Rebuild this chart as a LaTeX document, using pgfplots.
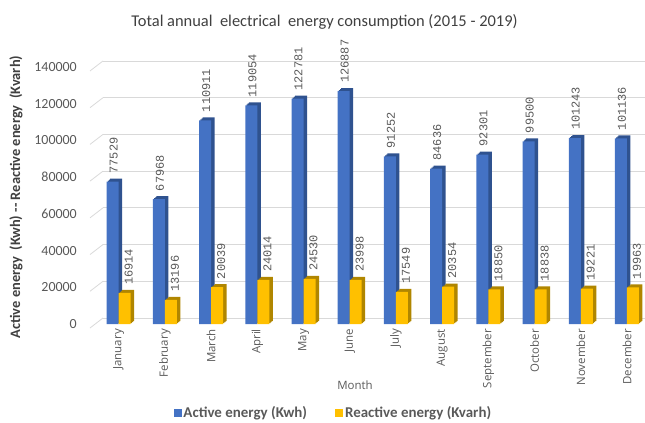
\documentclass[border=0pt]{standalone}
\usepackage{fontspec}
\setmainfont{Carlito}
\newfontfamily\opensans{Open Sans}
\newfontfamily\lmono{Liberation Mono}
\usepackage{pgfplots}
\usepackage{pgfplotstable}
\pgfplotsset{compat=1.18}

\definecolor{actblue}{HTML}{4472C4}
\definecolor{actblueD}{HTML}{2F528F}
\definecolor{reacty}{HTML}{FFC000}
\definecolor{reactyD}{HTML}{B08600}
\definecolor{txtgray}{HTML}{595959}
\definecolor{labgray}{HTML}{404040}
\definecolor{gridgray}{HTML}{D9D9D9}

% Monthly totals, 2015-2019
\pgfplotstableread{
idx active reactive
0  77529  16914
1  67968  13196
2  110911 20039
3  119054 24014
4  122781 24530
5  126887 23998
6  91252  17549
7  84636  20354
8  92301  18850
9  99500  18838
10 101243 19221
11 101136 19963
}\energy

\begin{document}
\begin{tikzpicture}
\path[use as bounding box] (-103bp,-99bp) rectangle (542bp,324bp);

\begin{axis}[
  at={(0,0)}, anchor=south west,
  scale only axis, width=542bp, height=275.4bp,
  xmin=-0.34, xmax=11.39, ymin=0, ymax=150000,
  clip=false,
  axis line style={draw=none},
  major tick length=0pt,
  scaled y ticks=false,
  xtick={0,...,11},
  xticklabels={January,February,March,April,May,June,July,August,September,October,November,December},
  ytick={0,20000,40000,60000,80000,100000,120000,140000},
  yticklabels={0,20000,40000,60000,80000,100000,120000,140000},
  ymajorgrids,
  major grid style={draw=gridgray, line width=0.8pt, yshift=6bp},
  yticklabel style={font=\fontsize{14}{14}\selectfont, text=txtgray, anchor=east, inner sep=0pt, xshift=-26bp},
  xticklabel style={font=\opensans\fontsize{11.5}{11.5}\selectfont, text=txtgray, rotate=90, anchor=east, inner sep=0pt, xshift=-5bp},
  ybar, bar width=12bp,
  point meta=explicit symbolic,
  legend columns=2,
  legend style={at={(0.425,-0.323)}, anchor=center, draw=none, fill=none,
    font=\bfseries\fontsize{15}{15}\selectfont, text=txtgray,
    /tikz/every even column/.append style={column sep=26bp}},
]
% slanted floor ticks at the left wall
\pgfplotsinvokeforeach{0,20000,40000,60000,80000,100000,120000,140000}{
  \draw[gridgray, line width=0.8pt] ([shift={(-13bp,-4bp)}]axis cs:-0.34,#1) -- ([shift={(0bp,6bp)}]axis cs:-0.34,#1);
}

% depth of the active-energy bars
\addplot[fill=actblueD, draw=none, bar shift=-4.8bp, yshift=1bp, forget plot] table[x=idx,y=active,meta=active]{\energy};
\addplot[fill=actblueD, draw=none, bar shift=-3.6bp, yshift=2bp, forget plot] table[x=idx,y=active,meta=active]{\energy};
\addplot[fill=actblueD, draw=none, bar shift=-2.5bp, yshift=3bp, forget plot] table[x=idx,y=active,meta=active]{\energy};
% active energy
\addplot[fill=actblue, draw=none, bar shift=-6bp,
  legend image code/.code={\fill[actblue] (0bp,-4bp) rectangle (8bp,4bp);},
  nodes near coords,
  nodes near coords style={font=\lmono\fontsize{12}{12}\selectfont, text=txtgray, xshift=1bp, yshift=8bp, rotate=90, anchor=west, inner sep=0pt},
] table[x=idx,y=active,meta=active]{\energy};
\addlegendentry{Active energy (Kwh)}

% depth of the reactive-energy bars
\addplot[fill=reactyD, draw=none, bar shift=7.2bp, yshift=1bp, forget plot] table[x=idx,y=reactive,meta=reactive]{\energy};
\addplot[fill=reactyD, draw=none, bar shift=8.4bp, yshift=2bp, forget plot] table[x=idx,y=reactive,meta=reactive]{\energy};
\addplot[fill=reactyD, draw=none, bar shift=9.5bp, yshift=3bp, forget plot] table[x=idx,y=reactive,meta=reactive]{\energy};
% reactive energy
\addplot[fill=reacty, draw=none, bar shift=6bp,
  legend image code/.code={\fill[reacty] (0bp,-4bp) rectangle (8bp,4bp);},
  nodes near coords,
  nodes near coords style={font=\lmono\fontsize{12}{12}\selectfont, text=txtgray, xshift=4bp, yshift=8bp, rotate=90, anchor=west, inner sep=0pt},
] table[x=idx,y=reactive,meta=reactive]{\energy};
\addlegendentry{Reactive energy (Kvarh)}
\end{axis}

\node[font=\fontsize{16.5}{16.5}\selectfont, text=labgray] at (221.5bp,302bp)
  {Total annual\ \ electrical\ \ energy consumption (2015 - 2019)};
\node[rotate=90, font=\bfseries\fontsize{14.5}{14.5}\selectfont, text=labgray] at (-87bp,127bp)
  {Active energy\ \ (Kwh) -{}- Reactive energy\ \ (Kvarh)};
\node[font=\opensans\fontsize{11.5}{11.5}\selectfont, text=txtgray] at (252bp,-61bp) {Month};
\end{tikzpicture}
\end{document}
